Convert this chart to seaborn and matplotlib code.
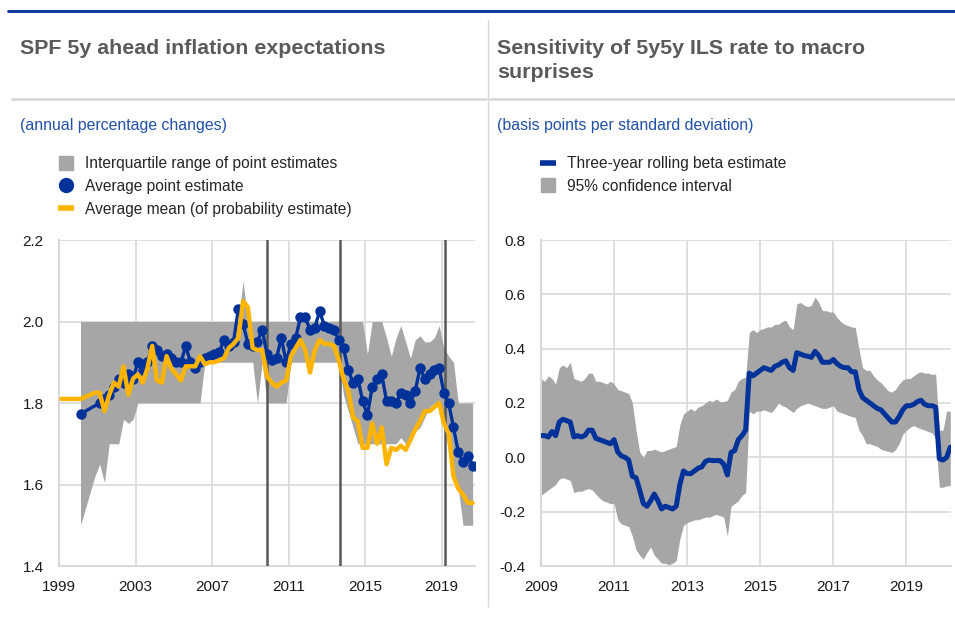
import numpy as np
import pandas as pd
import matplotlib
matplotlib.use("Agg")
import matplotlib.pyplot as plt
from matplotlib.lines import Line2D
import seaborn as sns

# ---- left panel: SPF 5y ahead (quarterly) ----
yellow_start = 1999   # average mean of probability estimate starts 1999Q1
spf_start = 2000      # point estimates / IQR start 2000Q1

avg_mean = [1.81, 1.81, 1.81, 1.81,
            1.81, 1.815, 1.82, 1.825,
            1.825, 1.78, 1.82, 1.85,
            1.84, 1.89, 1.82, 1.86,
            1.87, 1.85, 1.885, 1.94,
            1.855, 1.85, 1.915, 1.885,
            1.87, 1.855, 1.89, 1.89,
            1.89, 1.915, 1.895, 1.90,
            1.90, 1.905, 1.91, 1.935,
            1.945, 1.96, 2.05, 2.035,
            1.935, 1.93, 1.93, 1.865,
            1.85, 1.84, 1.85, 1.855,
            1.915, 1.935, 1.955, 1.93,
            1.875, 1.93, 1.955, 1.945,
            1.945, 1.94, 1.905, 1.86,
            1.83, 1.765, 1.755, 1.69,
            1.69, 1.75, 1.70, 1.74,
            1.65, 1.69, 1.685, 1.695,
            1.685, 1.71, 1.735, 1.755,
            1.78, 1.78, 1.79, 1.80,
            1.75, 1.725, 1.62, 1.59,
            1.575, 1.555, 1.555]

avg_point = [1.773, np.nan, np.nan, np.nan,
             1.80, 1.81, 1.82, 1.84,
             1.86, 1.85, 1.87, 1.86,
             1.90, 1.88, 1.90, 1.94,
             1.93, 1.915, 1.92, 1.91,
             1.90, 1.90, 1.94, 1.90,
             1.885, 1.90, 1.91, 1.915,
             1.92, 1.925, 1.955, 1.94,
             1.95, 2.03, 1.995, 1.945,
             1.94, 1.95, 1.98, 1.92,
             1.905, 1.91, 1.96, 1.90,
             1.945, 1.96, 2.01, 2.01,
             1.98, 1.985, 2.025, 1.99,
             1.985, 1.98, 1.955, 1.935,
             1.88, 1.85, 1.86, 1.805,
             1.77, 1.84, 1.86, 1.87,
             1.805, 1.805, 1.80, 1.825,
             1.82, 1.80, 1.83, 1.885,
             1.86, 1.87, 1.88, 1.885,
             1.825, 1.80, 1.74, 1.68,
             1.655, 1.67, 1.645]

iqr_low = [1.50, 1.54, 1.58, 1.62,
           1.65, 1.605, 1.70, 1.70,
           1.70, 1.76, 1.75, 1.76,
           1.80, 1.80, 1.80, 1.80,
           1.80, 1.80, 1.80, 1.80,
           1.80, 1.80, 1.80, 1.80,
           1.80, 1.80, 1.90, 1.90,
           1.90, 1.90, 1.90, 1.90,
           1.90, 1.90, 1.90, 1.90,
           1.90, 1.80, 1.90, 1.80,
           1.80, 1.80, 1.80, 1.80,
           1.90, 1.90, 1.90, 1.90,
           1.90, 1.90, 1.90, 1.90,
           1.90, 1.90, 1.90, 1.82,
           1.78, 1.74, 1.70, 1.70,
           1.70, 1.70, 1.70, 1.70,
           1.70, 1.70, 1.70, 1.715,
           1.70, 1.71, 1.73, 1.74,
           1.765, 1.79, 1.80, 1.80,
           1.75, 1.68, 1.63, 1.59,
           1.50, 1.50, 1.50]

iqr_high = [2.00] * 32 + [2.00, 2.00, 2.10, 2.00] + [2.00] * 24 + \
           [1.92, 2.00, 2.00, 2.00,
            1.96, 1.915, 1.96, 1.99,
            1.95, 1.91, 1.955, 1.965,
            1.95, 1.95, 1.96, 1.99,
            1.935, 1.915, 1.90, 1.80,
            1.80, 1.80, 1.80]

event_dates = [2009.9, 2013.67, 2019.16]

# ---- right panel: rolling beta (sampled every 0.1 year) ----
beta_dates = np.round(np.arange(2009.0, 2020.25, 0.1), 1)
beta = [0.080, 0.080, 0.075, 0.095, 0.080, 0.130, 0.140, 0.135, 0.130, 0.075,
        0.080, 0.075, 0.080, 0.100, 0.100, 0.070, 0.065, 0.060, 0.055, 0.050,
        0.065, 0.020, 0.005, 0.000, -0.010, -0.070, -0.075, -0.120, -0.170, -0.180,
        -0.160, -0.135, -0.160, -0.190, -0.180, -0.185, -0.190, -0.180, -0.100, -0.050,
        -0.060, -0.060, -0.050, -0.040, -0.035, -0.015, -0.010, -0.012, -0.012, -0.012,
        -0.025, -0.065, 0.018, 0.025, 0.065, 0.080, 0.100, 0.310, 0.300, 0.310,
        0.320, 0.330, 0.325, 0.320, 0.335, 0.340, 0.350, 0.355, 0.330, 0.320,
        0.385, 0.380, 0.375, 0.372, 0.368, 0.390, 0.375, 0.350, 0.350, 0.350,
        0.360, 0.345, 0.335, 0.330, 0.330, 0.315, 0.315, 0.250, 0.220, 0.210,
        0.200, 0.190, 0.180, 0.175, 0.160, 0.145, 0.130, 0.130, 0.150, 0.175,
        0.190, 0.190, 0.195, 0.205, 0.210, 0.195, 0.190, 0.190, 0.185, -0.005,
        -0.010, 0.000, 0.037]
ci_high = [0.290, 0.280, 0.300, 0.290, 0.270, 0.330, 0.340, 0.330, 0.350, 0.290,
           0.285, 0.280, 0.290, 0.310, 0.310, 0.280, 0.280, 0.275, 0.270, 0.280,
           0.270, 0.250, 0.245, 0.240, 0.235, 0.200, 0.100, 0.020, 0.000, 0.025,
           0.025, 0.030, 0.025, 0.020, 0.025, 0.030, 0.035, 0.040, 0.120, 0.160,
           0.170, 0.180, 0.170, 0.185, 0.190, 0.200, 0.210, 0.205, 0.215, 0.205,
           0.205, 0.210, 0.240, 0.250, 0.280, 0.290, 0.295, 0.460, 0.470, 0.460,
           0.470, 0.475, 0.480, 0.480, 0.490, 0.490, 0.500, 0.505, 0.480, 0.470,
           0.565, 0.570, 0.560, 0.555, 0.560, 0.590, 0.570, 0.540, 0.540, 0.535,
           0.535, 0.515, 0.500, 0.490, 0.485, 0.480, 0.478, 0.400, 0.330, 0.320,
           0.320, 0.300, 0.285, 0.275, 0.260, 0.245, 0.240, 0.250, 0.270, 0.285,
           0.290, 0.290, 0.300, 0.310, 0.315, 0.310, 0.310, 0.305, 0.307, 0.100,
           0.100, 0.170, 0.170]
ci_low = [-0.140, -0.130, -0.120, -0.110, -0.100, -0.080, -0.075, -0.080, -0.085, -0.130,
          -0.125, -0.125, -0.120, -0.115, -0.120, -0.135, -0.150, -0.160, -0.165, -0.170,
          -0.170, -0.230, -0.245, -0.250, -0.255, -0.290, -0.340, -0.360, -0.375, -0.350,
          -0.330, -0.360, -0.375, -0.390, -0.390, -0.395, -0.390, -0.380, -0.300, -0.250,
          -0.240, -0.235, -0.230, -0.230, -0.225, -0.220, -0.220, -0.215, -0.210, -0.215,
          -0.220, -0.290, -0.180, -0.170, -0.160, -0.140, -0.130, 0.170, 0.160, 0.170,
          0.170, 0.175, 0.170, 0.165, 0.180, 0.200, 0.190, 0.185, 0.175, 0.165,
          0.180, 0.190, 0.195, 0.200, 0.195, 0.190, 0.185, 0.180, 0.180, 0.185,
          0.190, 0.170, 0.165, 0.160, 0.155, 0.150, 0.147, 0.100, 0.080, 0.050,
          0.050, 0.045, 0.040, 0.030, 0.025, 0.022, 0.018, 0.028, 0.050, 0.085,
          0.100, 0.110, 0.117, 0.110, 0.105, 0.100, 0.095, 0.090, 0.070, -0.110,
          -0.110, -0.105, -0.104]

BLUE = "#003299"
YELLOW = "#FFB400"
GREY = "#A6A6A6"
GRID = "#D9D9D9"
TITLE = "#5A5A5A"
SUB = "#2050A8"


def quarter_x(start, n):
    return [start + i // 4 + ((i % 4) + 0.5) / 4 for i in range(n)]


left = pd.DataFrame({"date": quarter_x(spf_start, len(avg_point)),
                     "point": avg_point, "low": iqr_low, "high": iqr_high})
ymean = pd.DataFrame({"date": quarter_x(yellow_start, len(avg_mean)), "mean": avg_mean})
right = pd.DataFrame({"date": beta_dates, "beta": beta, "low": ci_low, "high": ci_high})

sns.set_style("white")
plt.rcParams["font.family"] = ["Liberation Sans", "DejaVu Sans"]
plt.rcParams["axes.unicode_minus"] = False

W, H = 955, 617
fig = plt.figure(figsize=(W / 100, H / 100), dpi=100)


def fx(px):
    return px / W


def fy(py):
    return 1 - py / H


ax1 = fig.add_axes([fx(59), fy(566), fx(475) - fx(59), fy(240) - fy(566)])
ax2 = fig.add_axes([fx(541), fy(566), fx(951) - fx(541), fy(240) - fy(566)])

# left chart
ax1.fill_between(left["date"], left["low"], left["high"], color=GREY, lw=0, zorder=2)
for d in event_dates:
    ax1.axvline(d, color="#595959", lw=1.8, zorder=3)
pts = left.dropna(subset=["point"])
sns.lineplot(data=pts, x="date", y="point", ax=ax1, color=BLUE, lw=2.4, marker="o",
             markersize=7.5, markeredgewidth=0, estimator=None, sort=False, zorder=4)
sns.lineplot(data=ymean, x="date", y="mean", ax=ax1, color=YELLOW, lw=3.2,
             estimator=None, sort=False, zorder=5)
ax1.set_xlim(1999, 2020.75)
ax1.set_ylim(1.4, 2.2)
ax1.set_xticks([1999, 2003, 2007, 2011, 2015, 2019])
ax1.set_yticks([1.4, 1.6, 1.8, 2.0, 2.2])

# right chart
ax2.fill_between(right["date"], right["low"], right["high"], color=GREY, lw=0, zorder=2)
sns.lineplot(data=right, x="date", y="beta", ax=ax2, color=BLUE, lw=3.6,
             estimator=None, sort=False, zorder=4)
ax2.set_xlim(2009, 2020.22)
ax2.set_ylim(-0.4, 0.8)
ax2.set_xticks([2009, 2011, 2013, 2015, 2017, 2019])
ax2.set_yticks([-0.4, -0.2, 0.0, 0.2, 0.4, 0.6, 0.8])

for ax in (ax1, ax2):
    ax.set_xlabel("")
    ax.set_ylabel("")
    ax.grid(True, color=GRID, lw=1.2, zorder=0)
    ax.set_axisbelow(True)
    ax.yaxis.set_major_formatter(matplotlib.ticker.FormatStrFormatter("%.1f"))
    ax.tick_params(length=0, labelsize=11, labelcolor="#1A1A1A")
    ax.tick_params(axis="x", pad=10)
    ax.tick_params(axis="y", pad=11)
    for s in ("top", "right"):
        ax.spines[s].set_visible(False)
    for s in ("left", "bottom"):
        ax.spines[s].set_color(GRID)
        ax.spines[s].set_linewidth(1.5)

# frame lines
fig.add_artist(Line2D([fx(8), 1], [fy(10.5), fy(10.5)], color=BLUE, lw=2))
fig.add_artist(Line2D([fx(12), fx(486)], [fy(99), fy(99)], color=GRID, lw=2))
fig.add_artist(Line2D([fx(490), 1], [fy(99), fy(99)], color=GRID, lw=2))
fig.add_artist(Line2D([fx(487.5), fx(487.5)], [fy(20), fy(607)], color=GRID, lw=1))

# titles
TFS = 15.4
fig.text(fx(20), fy(54), "SPF 5y ahead inflation expectations", fontsize=TFS,
         fontweight="bold", color=TITLE, va="baseline")
fig.text(fx(497), fy(54), "Sensitivity of 5y5y ILS rate to macro", fontsize=TFS,
         fontweight="bold", color=TITLE, va="baseline")
fig.text(fx(497), fy(78), "surprises", fontsize=TFS,
         fontweight="bold", color=TITLE, va="baseline")
fig.text(fx(20), fy(130), "(annual percentage changes)", fontsize=11.4,
         color=SUB, va="baseline")
fig.text(fx(497), fy(130), "(basis points per standard deviation)", fontsize=11.4,
         color=SUB, va="baseline")

# legends
LFS = 11.2
h_left = [Line2D([], [], ls="none", marker="s", markersize=10.5, color=GREY),
          Line2D([], [], ls="none", marker="o", markersize=10, color=BLUE),
          Line2D([], [], color=YELLOW, lw=4, solid_capstyle="butt")]
fig.legend(h_left, ["Interquartile range of point estimates", "Average point estimate",
                    "Average mean (of probability estimate)"],
           loc="upper left", bbox_to_anchor=(fx(58), fy(156)), frameon=False,
           fontsize=LFS, handlelength=1.05, handletextpad=0.7, labelspacing=0.5,
           borderpad=0, borderaxespad=0)
h_right = [Line2D([], [], color=BLUE, lw=4, solid_capstyle="butt"),
           Line2D([], [], ls="none", marker="s", markersize=10.5, color=GREY)]
fig.legend(h_right, ["Three-year rolling beta estimate", "95% confidence interval"],
           loc="upper left", bbox_to_anchor=(fx(540), fy(156)), frameon=False,
           fontsize=LFS, handlelength=1.05, handletextpad=0.7, labelspacing=0.5,
           borderpad=0, borderaxespad=0)

fig.savefig("out.png", dpi=100)
